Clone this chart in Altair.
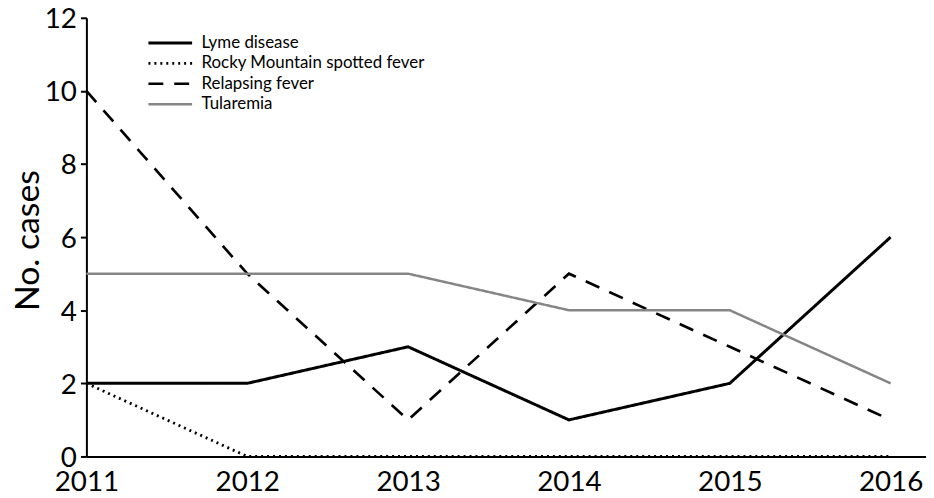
import altair as alt
import pandas as pd

years = [2011, 2012, 2013, 2014, 2015, 2016]
diseases = ["Lyme disease", "Rocky Mountain spotted fever", "Relapsing fever", "Tularemia"]
lyme = [2, 2, 3, 1, 2, 6]
rmsf = [2, 0, 0, 0, 0, 0]
relapsing = [10, 5, 1, 5, 3, 1]
tularemia = [5, 5, 5, 4, 4, 2]

rows = []
for name, vals in zip(diseases, [lyme, rmsf, relapsing, tularemia]):
    for y, v in zip(years, vals):
        rows.append({"year": y, "cases": v, "disease": name})
df = pd.DataFrame(rows)

FONT = "Lato"

legend_opts = dict(title=None, orient="none", legendX=73, legendY=14,
                   symbolType="M-2.2,0H2.2", symbolSize=400,
                   symbolFillColor="transparent",
                   labelFontSize=17, labelFont=FONT, labelLimit=500,
                   labelColor="black", rowPadding=0.5,
                   labelOffset=20, symbolStrokeWidth=3)

chart = alt.Chart(df).mark_line(strokeJoin="miter").encode(
    x=alt.X("year:Q",
            scale=alt.Scale(domain=[2011, 2016.22], nice=False, zero=False),
            axis=alt.Axis(values=years, format="d", title=None, ticks=False,
                          grid=False, labelFontSize=28, labelFont=FONT,
                          labelColor="black", labelPadding=12,
                          domainColor="black", domainWidth=2,
                          labelFlush=False, labelOverlap=False)),
    y=alt.Y("cases:Q",
            scale=alt.Scale(domain=[0, 12], nice=False),
            axis=alt.Axis(values=[0, 2, 4, 6, 8, 10, 12], title="No. cases",
                          grid=False, tickSize=6, tickColor="black", tickWidth=2,
                          labelFontSize=28, labelFont=FONT, labelColor="black",
                          labelPadding=4, labelBaseline="middle", labelOffset=2,
                          domainColor="black", domainWidth=2,
                          titleFontSize=34, titleFont=FONT, titleFontWeight="normal",
                          titleColor="black", titleAngle=-90, titleX=-58, titleY=224,
                          titleAlign="center", titleBaseline="middle",
                          labelFlush=False)),
    color=alt.Color("disease:N",
                    scale=alt.Scale(domain=diseases,
                                    range=["black", "black", "black", "#858585"]),
                    legend=alt.Legend(**legend_opts)),
    strokeDash=alt.StrokeDash("disease:N",
                              scale=alt.Scale(domain=diseases,
                                              range=[[1, 0], [2, 4], [15, 11], [1, 0]]),
                              legend=alt.Legend(**legend_opts)),
    strokeWidth=alt.StrokeWidth("disease:N",
                                scale=alt.Scale(domain=diseases, range=[3, 2.5, 3, 2.5]),
                                legend=None),
).properties(
    width=846, height=442,
    autosize=alt.AutoSizeParams(type="none"),
    padding={"left": 79, "top": 8, "right": 0, "bottom": 40},
).configure_view(stroke=None)

chart.save("out.html", embed_options={"renderer": "svg", "actions": False})
